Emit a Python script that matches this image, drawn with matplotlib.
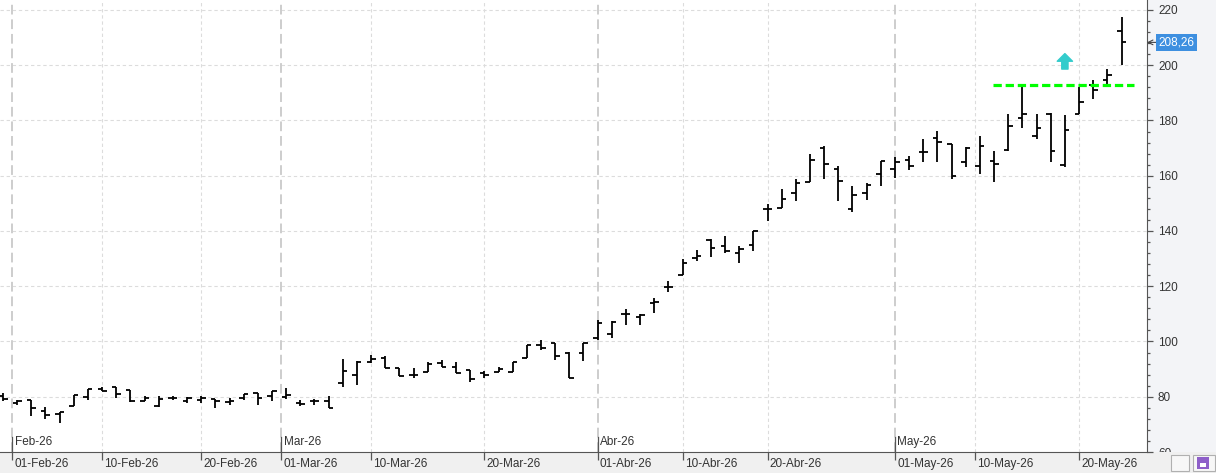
import numpy as np
import pandas as pd
import matplotlib
matplotlib.use("Agg")
import matplotlib.pyplot as plt
from matplotlib.ticker import MultipleLocator
from matplotlib.transforms import blended_transform_factory, Bbox, TransformedBbox
from matplotlib.patches import Rectangle

plt.rcParams['font.family'] = ['Liberation Sans', 'DejaVu Sans']

# sesiones (dias habiles sin festivos)
festivos = ['2026-02-16', '2026-04-03', '2026-05-25']
fechas = pd.bdate_range('2026-01-30', '2026-05-26')
fechas = fechas[~fechas.isin(pd.to_datetime(festivos))]

aperturas = [80.1, 77.9, 78.9, 75.0, 73.8, 76.7, 79.8, 82.9, 83.7, 82.5,
             78.3, 76.6, 79.5, 78.3, 78.9, 79.1, 78.0, 79.5, 81.3, 80.3,
             80.0, 77.7, 78.5, 78.6, 84.9, 87.9, 92.7, 94.2, 90.3, 87.9,
             89.1, 92.1, 90.9, 89.7, 88.6, 89.1, 88.8, 94.1, 98.7, 99.3,
             95.7, 95.7, 101.1, 102.6, 109.8, 108.9, 113.9, 119.9, 123.9, 130.2,
             136.8, 134.5, 132.0, 135.0, 147.9, 148.3, 153.9, 157.9, 170.2, 162.3,
             147.9, 153.9, 160.5, 162.3, 165.6, 168.7, 173.5, 171.4, 164.8, 163.5,
             165.3, 169.3, 181.0, 174.3, 182.2, 163.8, 182.4, 193.0, 194.8, 212.4]
maximos = [81.3, 78.9, 78.9, 76.2, 74.3, 80.5, 82.7, 83.4, 83.7, 82.5,
           80.1, 80.3, 80.3, 79.8, 80.3, 79.1, 79.5, 81.0, 81.3, 82.2,
           83.1, 78.9, 79.1, 80.1, 93.5, 93.0, 95.1, 94.7, 90.5, 90.5,
           92.7, 93.3, 92.7, 89.7, 89.2, 90.9, 92.7, 98.7, 100.5, 99.6,
           96.3, 99.3, 107.7, 107.3, 111.9, 110.1, 115.9, 121.9, 129.9, 133.2,
           137.1, 138.1, 134.7, 140.1, 149.7, 155.1, 158.7, 168.0, 170.7, 163.5,
           156.3, 157.2, 165.3, 166.8, 167.1, 173.2, 176.1, 171.4, 170.4, 174.3,
           168.9, 182.5, 192.1, 182.2, 182.8, 181.8, 192.1, 194.8, 198.6, 217.4]
minimos = [78.4, 77.1, 72.9, 71.9, 70.5, 76.7, 78.9, 81.9, 79.5, 78.1,
           78.3, 76.4, 78.9, 77.9, 77.7, 76.1, 77.0, 78.9, 77.0, 78.6,
           79.3, 76.7, 77.0, 75.9, 83.4, 84.3, 92.1, 90.3, 87.5, 86.9,
           89.1, 90.6, 88.5, 85.2, 86.7, 88.8, 88.8, 94.1, 96.9, 93.3,
           86.9, 92.9, 100.5, 101.1, 105.9, 105.9, 110.3, 117.9, 123.9, 129.1,
           130.7, 132.0, 128.4, 132.9, 143.7, 148.3, 150.9, 157.9, 158.7, 150.9,
           146.7, 151.2, 156.3, 159.1, 162.0, 164.8, 165.1, 158.7, 163.0, 160.8,
           157.8, 168.9, 177.4, 173.4, 165.0, 163.0, 182.4, 187.9, 192.1, 199.9]
cierres = [79.1, 78.6, 75.9, 73.4, 74.3, 80.5, 82.7, 81.9, 81.0, 78.3,
           79.4, 79.1, 79.4, 79.7, 79.5, 78.3, 78.6, 80.9, 79.5, 82.2,
           80.7, 77.4, 78.3, 75.9, 89.4, 92.7, 93.5, 90.5, 87.6, 87.9,
           91.7, 90.9, 88.5, 86.4, 87.9, 90.0, 92.7, 98.7, 97.7, 94.8,
           86.9, 99.3, 106.7, 107.1, 109.8, 109.5, 114.3, 119.9, 128.4, 131.1,
           133.8, 132.7, 133.5, 140.1, 147.9, 151.5, 157.5, 165.6, 164.4, 158.1,
           153.1, 156.7, 165.3, 165.1, 163.5, 168.7, 172.3, 159.9, 170.2, 170.7,
           164.4, 178.0, 182.4, 177.1, 168.9, 176.4, 186.7, 190.9, 196.6, 208.26]

resistencia = 192.9
resistencia_desde = '2026-05-11'
senal_fecha = '2026-05-19'
senal_precio = 201.3

meses = {1: 'Ene', 2: 'Feb', 3: 'Mar', 4: 'Abr', 5: 'May'}
dias_grid = ['2026-02-01', '2026-02-10', '2026-02-20', '2026-03-01', '2026-03-10',
             '2026-03-20', '2026-04-01', '2026-04-10', '2026-04-20', '2026-05-01',
             '2026-05-10', '2026-05-20']

idx = np.arange(len(fechas))
ords = np.array([d.toordinal() for d in fechas])


def pos(fecha):
    return np.interp(pd.Timestamp(fecha).toordinal(), ords, idx)


fig = plt.figure(figsize=(12.16, 4.73), dpi=100, facecolor='#f3f4f7')
fig.patches.append(Rectangle((0, 0), 1, 21 / 473, transform=fig.transFigure,
                             facecolor='#f0f0f0', edgecolor='none', zorder=-5))
ax = fig.add_axes([0, 21 / 473, 1147 / 1216, 452 / 473])
ax.set_facecolor('white')

# rejilla
for v in range(80, 221, 20):
    ax.axhline(v, color='#dcdcdc', lw=0.8, dashes=(3, 2.5), zorder=1)
trans = blended_transform_factory(ax.transData, ax.transAxes)
xt = []
for f in dias_grid:
    d = pd.Timestamp(f)
    x = pos(f)
    xt.append(x)
    if d.day == 1:
        ax.axvline(x, color='#cdcdcd', lw=1.4, dashes=(5, 2.5), zorder=1)
        ax.plot([x, x], [0, 15 / 452], transform=trans, color='#555555', lw=0.9, zorder=3)
        ax.annotate(f"{meses[d.month]}-{d.strftime('%y')}", xy=(x, 0), xycoords=trans,
                    xytext=(1.6, 7.3), textcoords='offset points', ha='left', va='center',
                    fontsize=8.5, color='#333333')
    else:
        ax.axvline(x, color='#dcdcdc', lw=0.8, dashes=(3, 2.5), zorder=1)
    ax.annotate(f"{d.day:02d}-{meses[d.month]}-{d.strftime('%y')}", xy=(x, 0), xycoords=trans,
                xytext=(1.6, -8.6), textcoords='offset points', ha='left', va='center',
                fontsize=8.5, color='#333333', annotation_clip=False)

# barras OHLC
w = 0.32
ax.vlines(idx, minimos, maximos, color='black', lw=1.3, zorder=4)
ax.hlines(aperturas, idx - w, idx, color='black', lw=1.3, zorder=4)
ax.hlines(cierres, idx, idx + w, color='black', lw=1.3, zorder=4)

# resistencia y senal
ax.hlines(resistencia, pos(resistencia_desde) + 0.95, len(fechas) - 0.1, color='#00ff00',
          lw=2.3, linestyles=(0, (2.6, 1.2)), zorder=5)
xs = pos(senal_fecha)
ax.annotate('', xy=(xs, senal_precio + 2.9), xytext=(xs, senal_precio - 2.7),
            arrowprops=dict(arrowstyle='simple,head_length=0.55,head_width=1.1,tail_width=0.45',
                            color='#33cccc', shrinkA=0, shrinkB=0), zorder=6)

# ultimo precio
ax.annotate(f"{cierres[-1]:.2f}".replace('.', ','), xy=(1, cierres[-1]),
            xycoords=('axes fraction', 'data'), xytext=(8.3, 0), textcoords='offset points',
            ha='left', va='center', fontsize=8.5, color='white', annotation_clip=False,
            bbox=dict(boxstyle='square,pad=0.22', fc='#3d8fe0', ec='none'),
            arrowprops=dict(arrowstyle='->', color='#444444', lw=0.8, shrinkA=0, shrinkB=0))

ax.set_xlim(-0.21, 80.8)
ax.set_ylim(60.7, 223.6)
ax.set_xticks(xt)
ax.tick_params(axis='x', length=5.8, color='#555555', labelbottom=False, width=0.9)
ax.yaxis.tick_right()
ax.set_yticks(range(60, 221, 20))
ax.yaxis.set_minor_locator(MultipleLocator(4))
ax.tick_params(axis='y', which='major', length=4.3, width=0.9, color='#555555',
               labelsize=8.5, labelcolor='#333333', pad=3.6)
ax.tick_params(axis='y', which='minor', length=2.4, width=0.9, color='#555555')
for s in ['top', 'left']:
    ax.spines[s].set_visible(False)
ax.spines['right'].set_color('#555555')
ax.spines['bottom'].set_color('#555555')

# la etiqueta 60 queda cortada por la franja de fechas
zona = TransformedBbox(Bbox([[0, 21 / 473], [1, 1]]), fig.transFigure)
for t in ax.yaxis.get_major_ticks():
    t.label2.set_clip_box(zona)
    t.label2.set_clip_on(True)

# iconos abajo a la derecha
fig.patches.append(Rectangle((1171 / 1216, 2 / 473), 18 / 1216, 16 / 473, transform=fig.transFigure,
                             facecolor='#f7f7f7', edgecolor='#b0b0b0', lw=0.8))
fig.patches.append(Rectangle((1193 / 1216, 2 / 473), 22 / 1216, 16 / 473, transform=fig.transFigure,
                             facecolor='#f7f7f7', edgecolor='#b0b0b0', lw=0.8))
fig.patches.append(Rectangle((1197 / 1216, 4 / 473), 12 / 1216, 12 / 473, transform=fig.transFigure,
                             facecolor='#8e5fc9', edgecolor='none'))
fig.patches.append(Rectangle((1200 / 1216, 6 / 473), 6 / 1216, 4 / 473, transform=fig.transFigure,
                             facecolor='white', edgecolor='none'))

fig.savefig('out.png', dpi=100, facecolor=fig.get_facecolor())
